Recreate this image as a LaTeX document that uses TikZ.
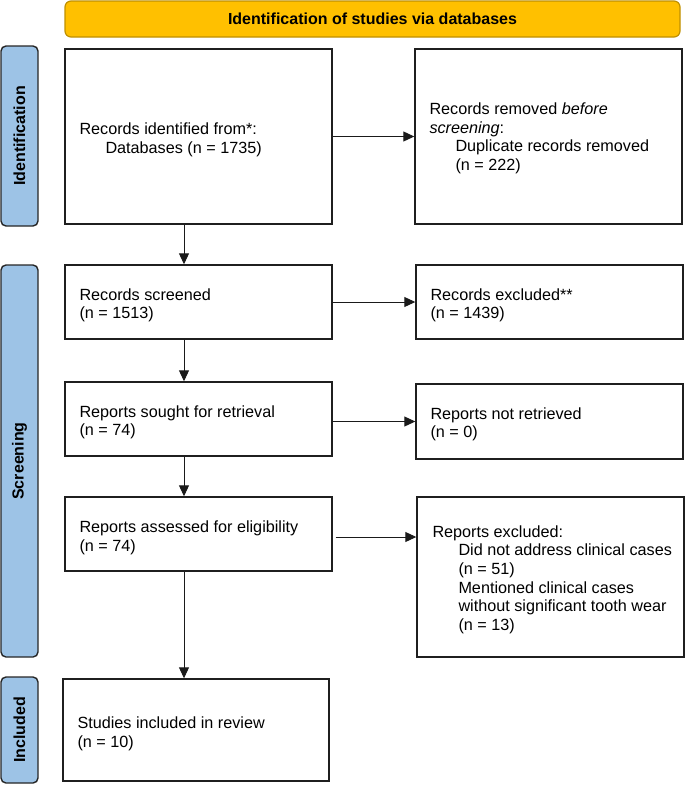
\documentclass[tikz,border=0pt]{standalone}
\usepackage{fontspec}
\setmainfont{Liberation Sans}
\usetikzlibrary{arrows.meta}
\definecolor{bannerfill}{HTML}{FFC000}
\definecolor{bannerline}{HTML}{BF9000}
\definecolor{sidefill}{HTML}{9DC3E6}
\definecolor{sideline}{HTML}{262626}
\definecolor{boxline}{HTML}{1F1F1F}
\definecolor{arrline}{HTML}{1A1A1A}
\tikzset{
  flowbox/.style={draw=boxline, line width=1.4pt, fill=white, rectangle, inner sep=0pt},
  boxtext/.style={anchor=west, inner sep=0pt, align=left,
    font=\fontsize{16.2}{18.6}\selectfont},
  sidebar/.style={draw=sideline, line width=1.4pt, fill=sidefill,
    rounded corners=5pt, minimum height=37pt, inner sep=0pt,
    font=\bfseries\fontsize{16}{18}\selectfont, rotate=90, anchor=center},
  banner/.style={draw=bannerline, line width=1.2pt, fill=bannerfill,
    rounded corners=6pt, minimum width=615pt, minimum height=36pt, inner sep=0pt,
    font=\bfseries\fontsize{16}{18}\selectfont},
  conn/.style={draw=arrline, line width=1pt, -{Triangle[length=11pt,width=10pt]}}
}
\newcommand{\ind}{\hspace*{26pt}}
\begin{document}
\begin{tikzpicture}[x=1pt,y=-1pt]
\useasboundingbox (0,0) rectangle (685,785);
% banner
\node[banner] (ban) at (372.5,19) {Identification of studies via databases};
% side bars
\node[sidebar, minimum width=180pt] (sid) at (19.5,136) {Identification};
\node[sidebar, minimum width=392pt] (sscr) at (19.5,461) {Screening};
\node[sidebar, minimum width=106pt] (sinc) at (19.5,730) {Included};
% left column boxes
\node[flowbox, minimum width=267pt, minimum height=175pt] (b1) at (198.5,136.5) {};
\node[flowbox, minimum width=267pt, minimum height=74pt] (b3) at (198.5,302) {};
\node[flowbox, minimum width=267pt, minimum height=74pt] (b4) at (198.5,419) {};
\node[flowbox, minimum width=267pt, minimum height=74pt] (b5) at (198.5,534) {};
\node[flowbox, minimum width=266pt, minimum height=102pt] (b6) at (196,730) {};
% right column boxes
\node[flowbox, minimum width=267pt, minimum height=175pt] (b2) at (548.5,136.5) {};
\node[flowbox, minimum width=267pt, minimum height=74pt] (r1) at (549.5,302) {};
\node[flowbox, minimum width=267pt, minimum height=75pt] (r2) at (549.5,421.5) {};
\node[flowbox, minimum width=267pt, minimum height=160pt] (r3) at (550.5,577) {};
% texts
\node[boxtext] (t1) at ([xshift=15pt,yshift=-3.5pt]b1.west)
  {Records identified from*:\\ \ind Databases (n = 1735)};
\node[boxtext] (t3) at ([xshift=15pt,yshift=-3.5pt]b3.west)
  {Records screened\\(n = 1513)};
\node[boxtext] (t4) at ([xshift=15pt,yshift=-3.5pt]b4.west)
  {Reports sought for retrieval\\(n = 74)};
\node[boxtext] (t5) at ([xshift=15pt,yshift=-3.5pt]b5.west)
  {Reports assessed for eligibility\\(n = 74)};
\node[boxtext] (t6) at ([xshift=15pt,yshift=-3.5pt]b6.west)
  {Studies included in review\\(n = 10)};
\node[boxtext] (t2) at ([xshift=15pt,yshift=-2pt]b2.west)
  {Records removed \textit{before}\\\textit{screening}:\\ \ind Duplicate records removed\\ \ind (n = 222)};
\node[boxtext] (tr1) at ([xshift=15pt,yshift=-3.5pt]r1.west)
  {Records excluded**\\(n = 1439)};
\node[boxtext] (tr2) at ([xshift=15pt,yshift=-3pt]r2.west)
  {Reports not retrieved\\(n = 0)};
\node[boxtext] (tr3) at ([xshift=16pt,yshift=-2.5pt]r3.west)
  {Reports excluded:\\ \ind Did not address clinical cases\\ \ind (n = 51)\\ \ind Mentioned clinical cases\\ \ind without significant tooth wear\\ \ind (n = 13)};
% vertical connectors
\draw[conn] ([xshift=-14.5pt]b1.south) -- ([xshift=-14.5pt]b3.north);
\draw[conn] ([xshift=-14.5pt]b3.south) -- ([xshift=-14.5pt]b4.north);
\draw[conn] ([xshift=-14.5pt]b4.south) -- ([xshift=-14.5pt]b5.north);
\draw[conn] ([xshift=-14.5pt]b5.south) -- ([xshift=-12pt]b6.north);
% horizontal connectors
\draw[conn] (b1.east) -- (b2.west);
\draw[conn] (b3.east) -- (r1.west);
\draw[conn] (b4.east |- r2.west) -- (r2.west);
\draw[conn] ([xshift=3pt,yshift=-3pt]b5.east) -- ([yshift=-3pt]b5.east -| r3.west);
\end{tikzpicture}
\end{document}
